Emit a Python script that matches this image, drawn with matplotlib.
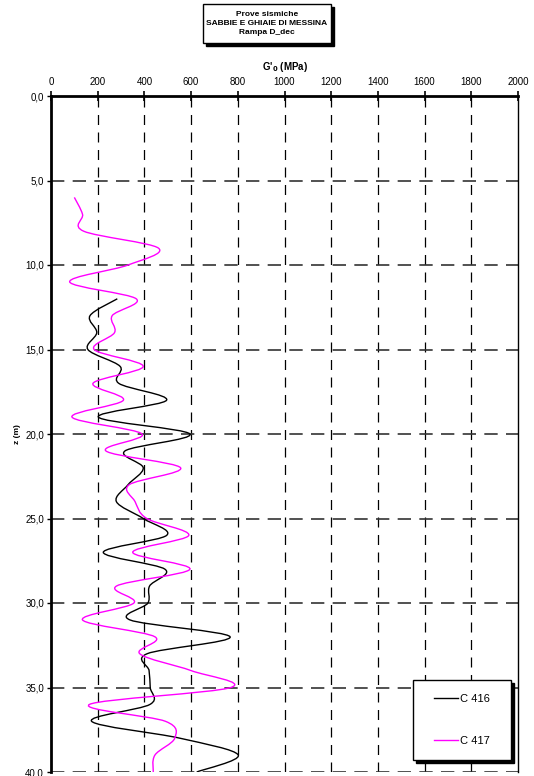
import numpy as np
import matplotlib
matplotlib.use("Agg")
import matplotlib.pyplot as plt
from matplotlib.path import Path
from matplotlib.patches import PathPatch, Rectangle
from matplotlib.lines import Line2D

plt.rcParams['font.family'] = ['Liberation Sans', 'DejaVu Sans']

# C 416 profile (depth in m, G'0 in MPa)
z_416 = [12, 13, 14, 15, 16, 17, 18, 19, 20, 21, 22, 23, 24, 25, 26,
         27, 28, 29, 30, 31, 32, 33, 34, 35, 36, 37, 38, 39, 40]
g_416 = [284, 167, 196, 158, 296, 290, 495, 203, 595, 317, 395, 330, 280, 395, 495,
         224, 488, 422, 415, 338, 767, 412, 420, 425, 424, 174, 552, 802, 624]

# C 417 profile
z_417 = [6, 7, 8, 9, 10, 11, 12, 13, 14, 15, 16, 17, 18, 19, 20, 21, 22, 23,
         24, 25, 26, 27, 28, 29, 30, 31, 32, 33, 34, 35, 36, 37, 38, 39, 40]
g_417 = [100, 135, 140, 460, 330, 80, 365, 262, 272, 185, 395, 180, 310, 90, 390, 235, 555, 335,
         360, 410, 590, 350, 595, 280, 355, 135, 445, 380, 600, 770, 165, 490, 530, 445, 438]

x_ticks = [0, 200, 400, 600, 800, 1000, 1200, 1400, 1600, 1800, 2000]
z_ticks = [0, 5, 10, 15, 20, 25, 30, 35, 40]


def smooth_path(xs, ys):
    # Excel-style smoothed line: cubic Bezier segments through the points
    p = np.column_stack([xs, ys]).astype(float)
    n = len(p)
    verts = [p[0]]
    codes = [Path.MOVETO]
    for i in range(n - 1):
        p0 = p[i - 1] if i > 0 else p[i]
        p1 = p[i]
        p2 = p[i + 1]
        p3 = p[i + 2] if i + 2 < n else p[i + 1]
        c1 = p1 + (p2 - p0) / 6.0
        c2 = p2 - (p3 - p1) / 6.0
        verts += [c1, c2, p2]
        codes += [Path.CURVE4] * 3
    return Path(verts, codes)


fig = plt.figure(figsize=(5.34, 7.76), dpi=100)
ax = fig.add_axes([51 / 534, 4 / 776, 467 / 534, 676 / 776])

for zz, gg, col in [(z_416, g_416, 'black'), (z_417, g_417, '#ff00ff')]:
    ax.add_patch(PathPatch(smooth_path(gg, zz), facecolor='none', edgecolor=col,
                           lw=1.0, zorder=3))

ax.set_xlim(0, 2000)
ax.set_ylim(40, 0)
ax.xaxis.tick_top()
ax.xaxis.set_label_position('top')
ax.set_xticks(x_ticks)
ax.set_yticks(z_ticks)
ax.set_yticklabels([f"{v:.1f}".replace('.', ',') for v in z_ticks])
ax.tick_params(axis='x', direction='inout', length=7, width=1.2, labelsize=7, pad=3)
ax.tick_params(axis='y', direction='out', length=3, width=1, labelsize=7, pad=2)

for v in x_ticks[1:-1]:
    ax.axvline(v, color='black', lw=0.9, ls=(0, (8, 6)), zorder=1)
for v in z_ticks[1:]:
    ax.axhline(v, color='#333333', lw=1.2, ls=(0, (8, 5)), zorder=1)

ax.spines['top'].set_linewidth(2)
ax.spines['left'].set_linewidth(2)
ax.spines['right'].set_linewidth(1)
ax.spines['bottom'].set_visible(False)

ax.set_xlabel("G'$_\\mathbf{0}$ (MPa)", fontsize=7, fontweight='bold', labelpad=5)
ax.set_ylabel("z (m)", fontsize=6, fontweight='bold', labelpad=3)

# legend box with black shadow
bx0, bx1 = (413 - 51) / 467, (511 - 51) / 467
by0, by1 = (772 - 760) / 676, (772 - 680) / 676
ax.add_patch(Rectangle((bx0 + 3 / 467, by0 - 3 / 676), bx1 - bx0, by1 - by0,
                       transform=ax.transAxes, facecolor='black', edgecolor='black',
                       zorder=6, clip_on=False))
ax.add_patch(Rectangle((bx0, by0), bx1 - bx0, by1 - by0, transform=ax.transAxes,
                       facecolor='white', edgecolor='black', lw=1, zorder=7, clip_on=False))
handles = [Line2D([], [], color='black', lw=1), Line2D([], [], color='#ff00ff', lw=1)]
leg = ax.legend(handles, ['C 416', 'C 417'], loc='center',
                bbox_to_anchor=((bx0 + bx1) / 2, (by0 + by1) / 2), fontsize=8,
                frameon=False, handlelength=2.2, handletextpad=0.2, labelspacing=2.9,
                borderpad=0, borderaxespad=0)
leg.set_zorder(8)

# title box with black shadow
title = "Prove sismiche\nSABBIE E GHIAIE DI MESSINA\nRampa D_dec"
tx0, tx1 = 203 / 534, 331 / 534
ty0, ty1 = 1 - 43 / 776, 1 - 4 / 776
fig.add_artist(Rectangle((tx0 + 3 / 534, ty0 - 3 / 776), tx1 - tx0, ty1 - ty0,
                         transform=fig.transFigure, facecolor='black', edgecolor='black'))
fig.add_artist(Rectangle((tx0, ty0), tx1 - tx0, ty1 - ty0, transform=fig.transFigure,
                         facecolor='white', edgecolor='black', lw=1))
fig.text((tx0 + tx1) / 2, (ty0 + ty1) / 2, title, ha='center', va='center',
         fontsize=6.0, fontweight='bold', color='black', linespacing=1.45)

fig.savefig('out.png', dpi=100)
